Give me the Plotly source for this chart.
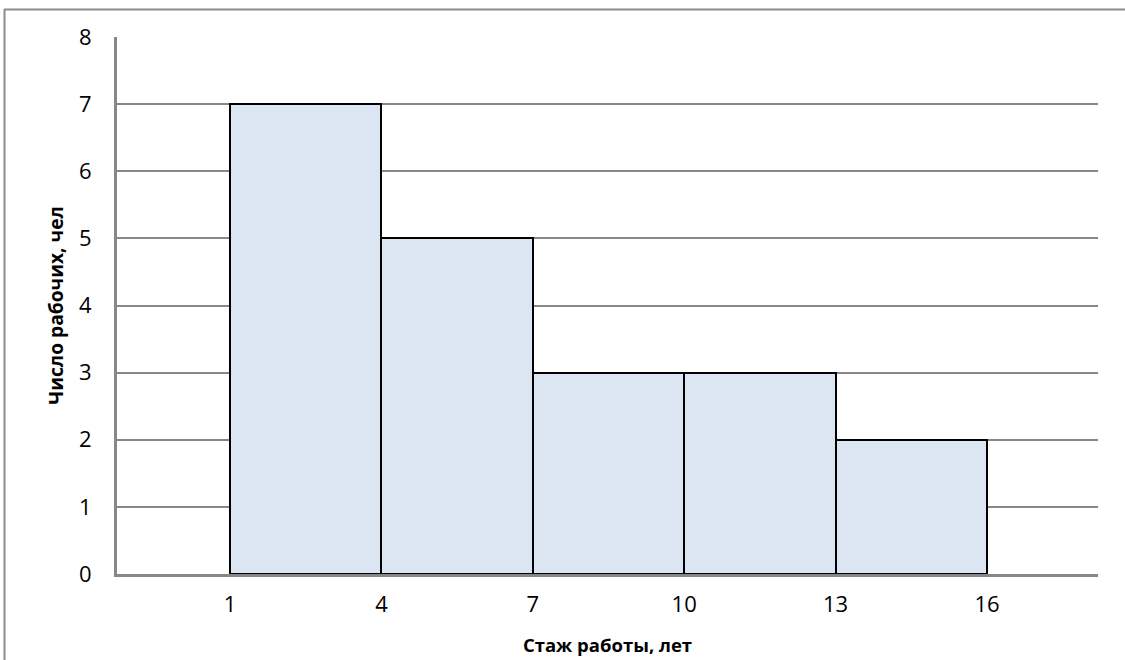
import plotly.graph_objects as go

# Data
bin_edges = [1, 4, 7, 10, 13, 16]
counts = [7, 5, 3, 3, 2]
tick_values = [1, 4, 7, 10, 13, 16]
tick_labels = ["1", "4", "7", "10", "13", "16"]
y_ticks = [0, 1, 2, 3, 4, 5, 6, 7, 8]

mids = [(a + b) / 2 for a, b in zip(bin_edges[:-1], bin_edges[1:])]
widths = [b - a for a, b in zip(bin_edges[:-1], bin_edges[1:])]

W, H = 1125, 660
L, R, T, B = 117, 27, 37, 86
pw = W - L - R
ph = H - T - B

font = "Open Sans, Lato, sans-serif"

fig = go.Figure()
fig.add_trace(go.Bar(
    x=mids, y=counts, width=widths,
    marker=dict(color="#DCE6F2", line=dict(color="#000000", width=2)),
    hoverinfo="skip",
))

def px_x(p):
    return (p - L) / pw

def px_y(p):
    return (H - B - p) / ph

fig.update_layout(
    width=W, height=H,
    margin=dict(l=L, r=R, t=T, b=B),
    paper_bgcolor="white", plot_bgcolor="white",
    showlegend=False,
    bargap=0,
    font=dict(family=font, size=22, color="#000000"),
    xaxis=dict(
        range=[-1.24, 18.2],
        tickvals=tick_values, ticktext=tick_labels,
        tickfont=dict(size=22),
        showgrid=False, zeroline=False,
        showline=True, linecolor="#878787", linewidth=3,
        ticks="", ticklabelstandoff=9, automargin=False,
        title=dict(text="<b>Стаж работы, лет</b>", font=dict(size=18.5, family=font), standoff=22),
    ),
    yaxis=dict(
        range=[0, 8],
        tickvals=y_ticks,
        tickfont=dict(size=22),
        showgrid=True, gridcolor="#878787", gridwidth=2,
        zeroline=False,
        showline=True, linecolor="#878787", linewidth=3,
        ticks="", ticklabelstandoff=18, automargin=False,
        title=dict(text="<b>Число рабочих, чел</b>", font=dict(size=19.2, family=font), standoff=11),
    ),
    shapes=[
        dict(type="line", xref="paper", yref="paper",
             x0=px_x(4), x1=px_x(W + 5), y0=px_y(9.5), y1=px_y(9.5),
             line=dict(color="#8c8c8c", width=2)),
        dict(type="line", xref="paper", yref="paper",
             x0=px_x(4.5), x1=px_x(4.5), y0=px_y(9), y1=px_y(H + 5),
             line=dict(color="#8c8c8c", width=2)),
    ],
)

fig.write_html(
    "out.html",
    config={"displayModeBar": False},
    post_script="document.body.style.margin='0';document.body.style.overflow='hidden';",
)
